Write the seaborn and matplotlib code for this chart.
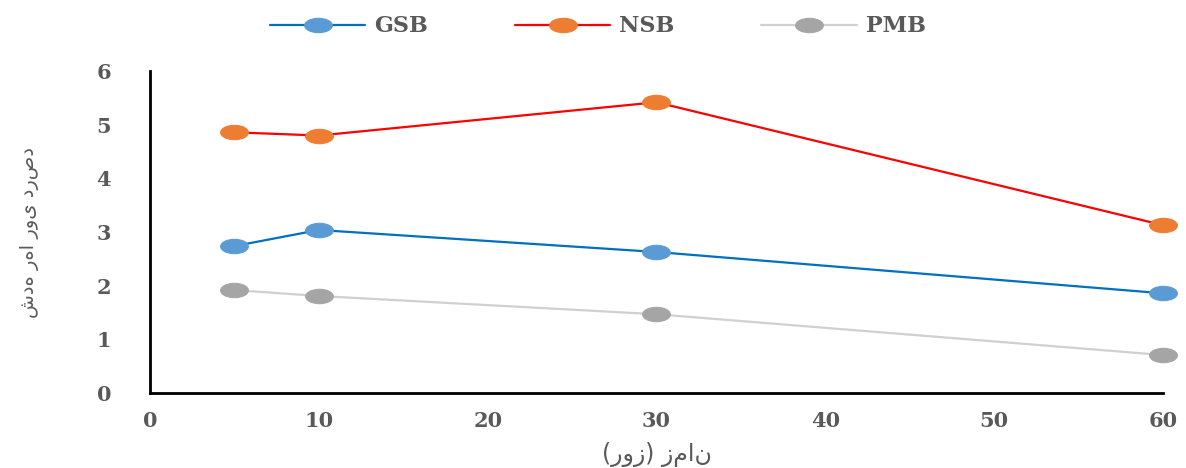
import numpy as np
import pandas as pd
import matplotlib
matplotlib.use("Agg")
import matplotlib.pyplot as plt
from matplotlib.path import Path
from matplotlib.transforms import Affine2D
import seaborn as sns

# data
days = [5, 10, 30, 60]
gsb = [2.74, 3.04, 2.63, 1.86]
nsb = [4.86, 4.80, 5.42, 3.13]
pmb = [1.92, 1.81, 1.47, 0.71]
series_names = ["GSB", "NSB", "PMB"]
line_colors = ["#0070C0", "#FF0000", "#D0D0D0"]
marker_colors = ["#5B9BD5", "#ED7D31", "#A5A5A5"]
x_ticks = [0, 10, 20, 30, 40, 50, 60]
y_ticks = [0, 1, 2, 3, 4, 5, 6]

# Persian labels: "زمان (روز)" and "درصد روی رها شده"
# the renderer shapes each word but lays words left to right,
# so the word order is given reversed here
x_words = ["زمان", "(روز)"]
y_words = ["درصد", "روی", "رها", "شده"]
x_label = " ".join(reversed(x_words))
y_label = " ".join(reversed(y_words))

df = pd.DataFrame({"day": days, "GSB": gsb, "NSB": nsb, "PMB": pmb})

sns.set_style("white")
plt.rcParams['font.family'] = ['DejaVu Serif', 'DejaVu Sans']

# flattened ellipse marker (the original is stretched horizontally)
ellipse = Path.unit_circle().transformed(Affine2D().scale(1.0, 0.52))

fig = plt.figure(figsize=(11.86, 4.68), dpi=100)
ax = fig.add_axes([0.1265, 0.160, 0.854, 0.688])

for name, lc, mc in zip(series_names, line_colors, marker_colors):
    sns.lineplot(data=df, x="day", y=name, ax=ax, color=lc, linewidth=1.6,
                 marker=ellipse, markersize=20, markerfacecolor=mc,
                 markeredgecolor=mc, label=name, clip_on=False, zorder=3)

ax.set_xlim(0, 60)
ax.set_ylim(0, 6)
ax.set_xticks(x_ticks)
ax.set_yticks(y_ticks)
ax.tick_params(axis='both', length=0, labelsize=15, labelcolor="#595959")
ax.tick_params(axis='x', pad=13)
ax.tick_params(axis='y', pad=28)
for lbl in ax.get_xticklabels() + ax.get_yticklabels():
    lbl.set_fontweight("bold")

for side in ["top", "right"]:
    ax.spines[side].set_visible(False)
for side in ["left", "bottom"]:
    ax.spines[side].set_color("black")
    ax.spines[side].set_linewidth(2)

ax.set_xlabel(x_label, fontsize=17, color="#595959", family=['DejaVu Sans'], labelpad=8)
ax.set_ylabel(y_label, fontsize=14, color="#595959", family=['DejaVu Sans'])
ax.yaxis.set_label_coords(-0.11, 0.5)

leg = ax.legend(loc="upper center", bbox_to_anchor=(0.442, 1.235), ncol=3, frameon=False,
                handlelength=4.3, columnspacing=3.9, handletextpad=0.4,
                prop={'size': 16, 'weight': 'bold'})
for t in leg.get_texts():
    t.set_color("#595959")

fig.savefig("out.png", dpi=100)
